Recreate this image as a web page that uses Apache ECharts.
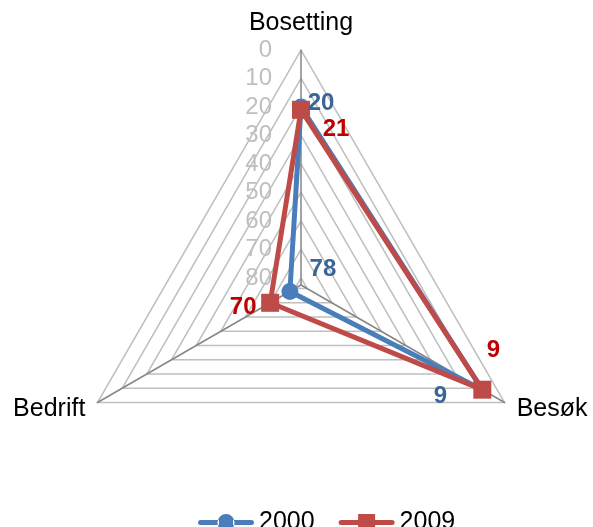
<!DOCTYPE html>
<html>
<head>
<meta charset="utf-8">
<script src="https://cdn.jsdelivr.net/npm/echarts@6/dist/echarts.min.js"></script>
<style>
  html, body { margin: 0; padding: 0; background: #fff; }
  #chart { width: 593px; height: 527px; }
</style>
</head>
<body>
<div id="chart"></div>
<script>
// indikatorer, rekkefølge som i ECharts (mot klokka fra toppen)
const indicators = ['Bosetting', 'Bedrift', 'Besøk'];
const year2000 = [20, 78, 9];
const year2009 = [21, 70, 9];
const seriesNames = ['2000', '2009'];

// aksen er snudd: 0 ytterst, ca 82.5 i sentrum
const AXIS_TOP = 82.5;
const AXIS_STEP = 2.5;
const tickStep = 10;

// etikett-forskyvning per hjørne (dx, dy)
const labelOffset2000 = [[20, -4], [33, -22], [-42, 7]];
const labelOffset2009 = [[35, 20], [-27, 5], [11, -39]];

const blue = '#4a7ebb';
const red = '#be4b48';
const font = 'Liberation Sans, Arial, sans-serif';

const flip = arr => arr.map(v => AXIS_TOP - v);

const chart = echarts.init(document.getElementById('chart'));

const gridColors = ['rgba(0,0,0,0)', '#bfbfbf', 'rgba(0,0,0,0)', 'rgba(0,0,0,0)'];

const option = {
  animation: false,
  radar: {
    center: [301, 285],
    radius: 235,
    startAngle: 90,
    shape: 'polygon',
    splitNumber: Math.round(AXIS_TOP / AXIS_STEP),
    nameGap: 14,
    axisName: { color: '#000', fontSize: 25, fontFamily: font },
    axisLine: { lineStyle: { color: '#868686', width: 1.5 } },
    axisTick: { show: false },
    splitLine: { lineStyle: { color: gridColors, width: 1.5 } },
    splitArea: { show: false },
    indicator: indicators.map((name, i) => ({
      name: name,
      min: 0,
      max: AXIS_TOP,
      axisLabel: i === 0 ? {
        show: true,
        color: '#bfbfbf',
        fontSize: 24,
        fontFamily: font,
        margin: 29,
        align: 'right',
        padding: [5, 0, 0, 0],
        formatter: function (t) {
          const v = AXIS_TOP - t;
          return Math.abs(v % tickStep) < 1e-6 ? String(Math.round(v)) : '';
        }
      } : { show: false }
    }))
  },
  legend: {
    left: 193,
    top: 505,
    itemWidth: 56,
    itemHeight: 18,
    itemGap: 24,
    itemStyle: { borderWidth: 0 },
    textStyle: { color: '#000', fontSize: 25, fontFamily: font },
    data: [
      { name: seriesNames[0], icon: 'path://M2.5,6.5 H21 V11.5 H2.5 A2.5,2.5 0 0,1 2.5,6.5 Z M35,6.5 H53.5 A2.5,2.5 0 0,1 53.5,11.5 H35 Z M19.5,9 A8.5,8.5 0 1,0 36.5,9 A8.5,8.5 0 1,0 19.5,9 Z' },
      { name: seriesNames[1], icon: 'path://M2.5,6.5 H21 V11.5 H2.5 A2.5,2.5 0 0,1 2.5,6.5 Z M35,6.5 H53.5 A2.5,2.5 0 0,1 53.5,11.5 H35 Z M19.5,0.5 H36.5 V17.5 H19.5 Z' }
    ]
  },
  series: [
    {
      type: 'radar',
      symbol: 'circle',
      symbolSize: 17,
      data: [{
        name: seriesNames[0],
        value: flip(year2000),
        itemStyle: { color: blue },
        lineStyle: { color: blue, width: 5 }
      }],
      label: {
        show: true,
        position: 'inside',
        color: '#3a6598',
        fontSize: 24,
        fontWeight: 'bold',
        fontFamily: font,
        formatter: p => String(Math.round(AXIS_TOP - p.value))
      }
    },
    {
      type: 'radar',
      symbol: 'rect',
      symbolSize: 18,
      data: [{
        name: seriesNames[1],
        value: flip(year2009),
        itemStyle: { color: red },
        lineStyle: { color: red, width: 5 }
      }],
      label: {
        show: true,
        position: 'inside',
        color: '#c00000',
        fontSize: 24,
        fontWeight: 'bold',
        fontFamily: font,
        formatter: p => String(Math.round(AXIS_TOP - p.value))
      }
    }
  ]
};

// forskyv etikettene per hjørne
option.series.forEach((s, si) => {
  const vals = si === 0 ? year2000 : year2009;
  const offs = si === 0 ? labelOffset2000 : labelOffset2009;
  s.labelLayout = function (p) {
    const i = vals.findIndex(v => String(v) === p.text);
    if (i < 0) return {};
    return { dx: offs[i][0], dy: offs[i][1] };
  };
});

chart.setOption(option);
</script>
</body>
</html>
